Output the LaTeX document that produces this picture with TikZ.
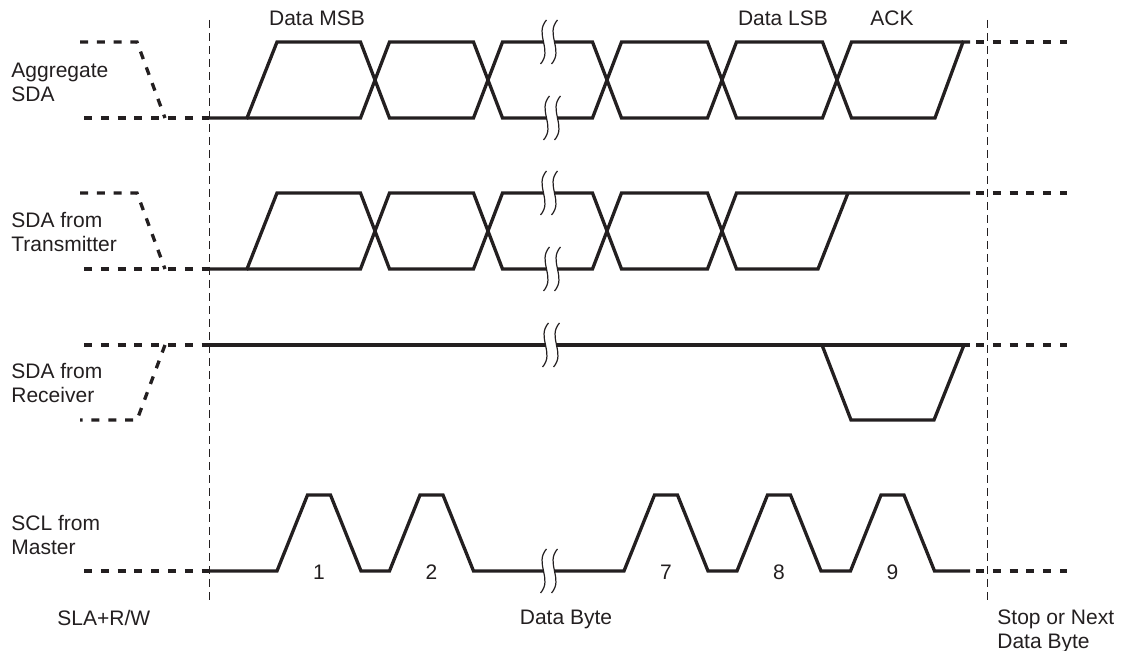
\documentclass[tikz,border=0pt]{standalone}
\usepackage{fontspec}
\setmainfont{Liberation Sans}
\definecolor{TimingInk}{HTML}{231F20}
\tikzset{
  wave/.style={draw=TimingInk,line width=1.65pt},
  stub/.style={wave,dash pattern=on 4pt off 4.4pt},
  divider/.style={draw=TimingInk,line width=0.5pt,dash pattern=on 4pt off 2.5pt},
  brk/.style={draw=TimingInk,line width=0.6pt},
  siglabel/.style={font=\fontsize{10.5}{12}\selectfont,text=TimingInk,align=left,inner sep=0pt},
  toplabel/.style={siglabel,anchor=base}
}

\begin{document}
\begin{tikzpicture}[x=0.5pt,y=-0.5pt]
  \useasboundingbox (0,0) rectangle (1126,651);

  % signal names
  \node[siglabel,anchor=base west] (aggr) at (11,102) {Aggregate\\SDA};
  \node[siglabel,anchor=base west] (xmit) at (11,252) {SDA from\\Transmitter};
  \node[siglabel,anchor=base west] (rcvr) at (11,403) {SDA from\\Receiver};
  \node[siglabel,anchor=base west] (sclm) at (11,555) {SCL from\\Master};

  \node[toplabel] (msb) at (317,26) {Data MSB};
  \node[toplabel] (lsb) at (783,26) {Data LSB};
  \node[toplabel] (ack) at (892,26) {ACK};

  \node[siglabel,anchor=base west] (sla) at (57,626) {SLA+R/W};
  \node[toplabel] (byte) at (566,625) {Data Byte};
  \node[siglabel,anchor=base west] (next) at (997,649) {Stop or Next\\Data Byte};

  % frame boundaries
  \draw[divider] (209,20) -- (209,602);
  \draw[divider] (987,20) -- (987,602);

  % dashed stubs before and after the byte
  \draw[stub] (80,42) -- (137,42) -- (165,118);
  \draw[stub] (84,118) -- (209,118);
  \draw[stub] (80,193) -- (137,193) -- (165,269);
  \draw[stub] (84,269) -- (209,269);
  \draw[stub] (84,345) -- (209,345);
  \draw[stub] (165,345) -- (137,420) -- (80,420);
  \draw[stub] (84,571) -- (209,571);
  \foreach \y in {42,193,345,571}
    \draw[stub] (976,\y) -- (1067,\y);

  % aggregate SDA
  \begin{scope}[shift={(0,42)}]
    \draw[wave] (209,76) -- (247,76) -- (277,0) -- (360.5,0) -- (389.5,76) -- (473.5,76)
      -- (502.5,0) -- (592.5,0) -- (621.5,76) -- (707.5,76) -- (736.5,0) -- (822.5,0)
      -- (851.5,76) -- (935,76) -- (963,0) -- (970,0);
    \draw[wave] (247,76) -- (360.5,76) -- (389.5,0) -- (473.5,0) -- (502.5,76) -- (592.5,76)
      -- (621.5,0) -- (707.5,0) -- (736.5,76) -- (822.5,76) -- (851.5,0) -- (963,0);
  \end{scope}

  % SDA from transmitter
  \begin{scope}[shift={(0,193)}]
    \draw[wave] (209,76) -- (247,76) -- (277,0) -- (360.5,0) -- (389.5,76) -- (473.5,76)
      -- (502.5,0) -- (592.5,0) -- (621.5,76) -- (707.5,76) -- (736.5,0) -- (970,0);
    \draw[wave] (247,76) -- (360.5,76) -- (389.5,0) -- (473.5,0) -- (502.5,76) -- (592.5,76)
      -- (621.5,0) -- (707.5,0) -- (736.5,76) -- (818,76) -- (848,0);
  \end{scope}

  % SDA from receiver
  \draw[wave] (209,345) -- (970,345);
  \draw[wave] (822,345) -- (851,420) -- (934,420) -- (964,345);

  % SCL from master
  \draw[wave] (209,571)
    foreach \c in {319,431.5,666,779,892.5} { -- (\c-42,571) -- (\c-11.5,495) -- (\c+11.5,495) -- (\c+42,571) }
    -- (970,571);
  \foreach \c/\n in {319/1,431.5/2,666/7,779/8,892.5/9}
    \node[toplabel] (clk\n) at (\c,580) {\n};

  % time breaks
  \foreach \bx/\by in {549/42,552/118,549/193,552/269,551/345,549/571} {
    \fill[white] (\bx-2.5,\by-22) .. controls (\bx-15,\by-8) and (\bx+4,\by+8) .. (\bx-8.5,\by+22)
      -- (\bx+2.5,\by+22) .. controls (\bx+15,\by+8) and (\bx-4,\by-8) .. (\bx+8.5,\by-22) -- cycle;
    \draw[brk] (\bx-2.5,\by-22) .. controls (\bx-15,\by-8) and (\bx+4,\by+8) .. (\bx-8.5,\by+22);
    \draw[brk] (\bx+8.5,\by-22) .. controls (\bx-4,\by-8) and (\bx+15,\by+8) .. (\bx+2.5,\by+22);
  }
\end{tikzpicture}
\end{document}
